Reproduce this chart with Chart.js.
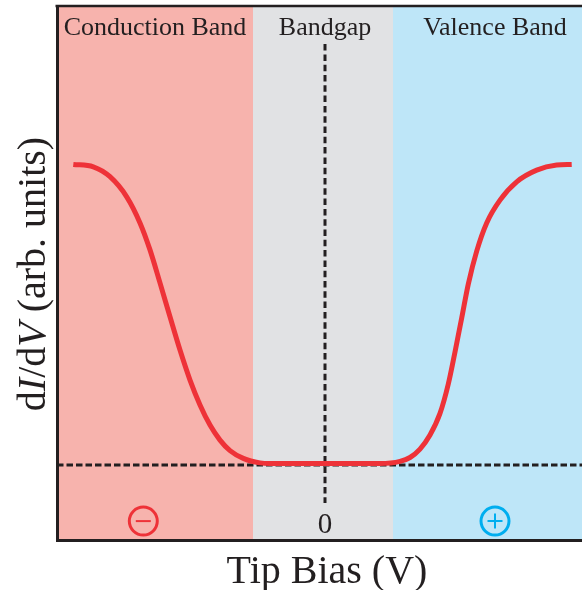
<!DOCTYPE html>
<html>
<head>
<meta charset="utf-8">
<script src="https://cdn.jsdelivr.net/npm/chart.js@4.4.1/dist/chart.umd.min.js"></script>
<style>
  html, body { margin: 0; padding: 0; background: #fff; }
  #wrap { width: 582px; height: 590px; position: relative; }
</style>
</head>
<body>
<div id="wrap"><canvas id="stsChart"></canvas></div>
<script>
// tip bias (V) and normalised dI/dV along the spectrum
const biasV = [
    -2.517, -2.317, -2.15, -1.983, -1.85, -1.75, -1.65, -1.55, -1.45, -1.35,
    -1.25, -1.15, -1.05, -0.95, -0.817, -0.65, -0.55, 0, 0.55,
    0.75, 0.85, 0.95, 1.05, 1.15, 1.233, 1.30, 1.367, 1.433, 1.517, 1.617,
    1.75, 1.917, 2.117, 2.317, 2.467
];
const didv = [
    1.002, 0.994, 0.961, 0.894, 0.807, 0.717, 0.607, 0.494, 0.383, 0.283,
    0.200, 0.133, 0.083, 0.048, 0.022, 0.007, 0.005, 0.005, 0.005,
    0.012, 0.025, 0.053, 0.100, 0.172, 0.270, 0.377, 0.490, 0.603, 0.713, 0.807,
    0.883, 0.944, 0.983, 1.0, 1.002
];

// band regions along the bias axis
const bandEdges = [-2.68, -0.72, 0.68, 2.57];
const bandNames = ['Conduction Band', 'Bandgap', 'Valence Band'];
const bandLabelAt = [-1.70, 0, 1.70];
const bandColors = ['#f7b3ad', '#e1e2e4', '#bee6f8'];

const xRange = [-2.68, 2.57];
const yRange = [-0.25, 1.53];

const INK = '#231f20';
const CURVE_RED = '#ee3238';
const SIGN_BLUE = '#00aeef';
const SERIF = "'Liberation Serif', 'Times New Roman', serif";

const bandsPlugin = {
    id: 'bands',
    beforeDraw(chart) {
        const {ctx, chartArea, scales: {x}} = chart;
        ctx.save();
        for (let i = 0; i < bandColors.length; i++) {
            const x0 = x.getPixelForValue(bandEdges[i]);
            const x1 = x.getPixelForValue(bandEdges[i + 1]);
            ctx.fillStyle = bandColors[i];
            ctx.fillRect(x0, chartArea.top, x1 - x0, chartArea.bottom - chartArea.top);
        }
        // frame line along the top
        ctx.strokeStyle = INK;
        ctx.lineWidth = 2.5;
        ctx.beginPath();
        ctx.moveTo(chartArea.left - 1.5, chartArea.top);
        ctx.lineTo(chartArea.right, chartArea.top);
        ctx.stroke();
        ctx.restore();
    },
    afterDraw(chart) {
        const {ctx, chartArea, scales: {x, y}} = chart;
        ctx.save();
        ctx.fillStyle = INK;

        // band names across the top
        ctx.font = `26px ${SERIF}`;
        ctx.textAlign = 'center';
        ctx.textBaseline = 'alphabetic';
        bandNames.forEach((name, i) => {
            ctx.fillText(name, x.getPixelForValue(bandLabelAt[i]), chartArea.top + 29);
        });

        // zero bias mark
        ctx.font = `29px ${SERIF}`;
        ctx.fillText('0', x.getPixelForValue(0), y.getPixelForValue(-0.225));

        // circled signs for negative and positive bias
        const signY = y.getPixelForValue(-0.187);
        [[-1.817, CURVE_RED, false], [1.70, SIGN_BLUE, true]].forEach(([v, col, plus]) => {
            const cx = x.getPixelForValue(v);
            ctx.strokeStyle = col;
            ctx.lineWidth = 3;
            ctx.beginPath();
            ctx.arc(cx, signY, 14, 0, Math.PI * 2);
            ctx.stroke();
            ctx.lineWidth = 2;
            ctx.beginPath();
            ctx.moveTo(cx - 7.5, signY);
            ctx.lineTo(cx + 7.5, signY);
            if (plus) {
                ctx.moveTo(cx, signY - 7.5);
                ctx.lineTo(cx, signY + 7.5);
            }
            ctx.stroke();
        });

        // x title
        ctx.fillStyle = INK;
        ctx.font = `40px ${SERIF}`;
        ctx.textAlign = 'center';
        ctx.fillText('Tip Bias (V)', 327, 583);

        // y title with italic I and V
        const parts = [
            ['d', false], ['I', true], ['/d', false], ['V', true], [' (arb. units)', false]
        ];
        const fontFor = it => `${it ? 'italic ' : ''}40px ${SERIF}`;
        let total = 0;
        parts.forEach(([t, it]) => { ctx.font = fontFor(it); total += ctx.measureText(t).width; });
        ctx.translate(45, 274);
        ctx.rotate(-Math.PI / 2);
        ctx.textAlign = 'left';
        let pos = -total / 2;
        parts.forEach(([t, it]) => {
            ctx.font = fontFor(it);
            ctx.fillText(t, pos, 0);
            pos += ctx.measureText(t).width;
        });
        ctx.restore();
    }
};

const ctxSts = document.getElementById('stsChart');

window.stsChart = new Chart(ctxSts, {
    type: 'line',
    data: {
        datasets: [
            {
                label: 'dI/dV',
                data: biasV.map((v, i) => ({x: v, y: didv[i]})),
                borderColor: CURVE_RED,
                borderWidth: 5,
                pointRadius: 0,
                cubicInterpolationMode: 'monotone',
                order: 0
            },
            {
                label: 'baseline',
                data: [{x: xRange[0], y: 0}, {x: xRange[1], y: 0}],
                borderColor: INK,
                borderWidth: 3,
                borderDash: [6.5, 3],
                pointRadius: 0,
                order: 1
            },
            {
                label: 'zero bias',
                data: [{x: 0, y: 1.403}, {x: 0, y: -0.127}],
                borderColor: INK,
                borderWidth: 3,
                borderDash: [6.5, 3.8],
                pointRadius: 0,
                order: 1
            }
        ]
    },
    options: {
        responsive: true,
        maintainAspectRatio: false,
        animation: false,
        layout: {
            padding: {left: 49, top: 6, right: 0, bottom: 42}
        },
        plugins: {
            legend: {display: false},
            tooltip: {enabled: false}
        },
        scales: {
            x: {
                type: 'linear',
                min: xRange[0],
                max: xRange[1],
                grid: {display: false},
                ticks: {display: false},
                border: {display: true, color: INK, width: 3}
            },
            y: {
                min: yRange[0],
                max: yRange[1],
                grid: {display: false},
                ticks: {display: false},
                border: {display: true, color: INK, width: 3}
            }
        }
    },
    plugins: [bandsPlugin]
});
</script>
</body>
</html>
